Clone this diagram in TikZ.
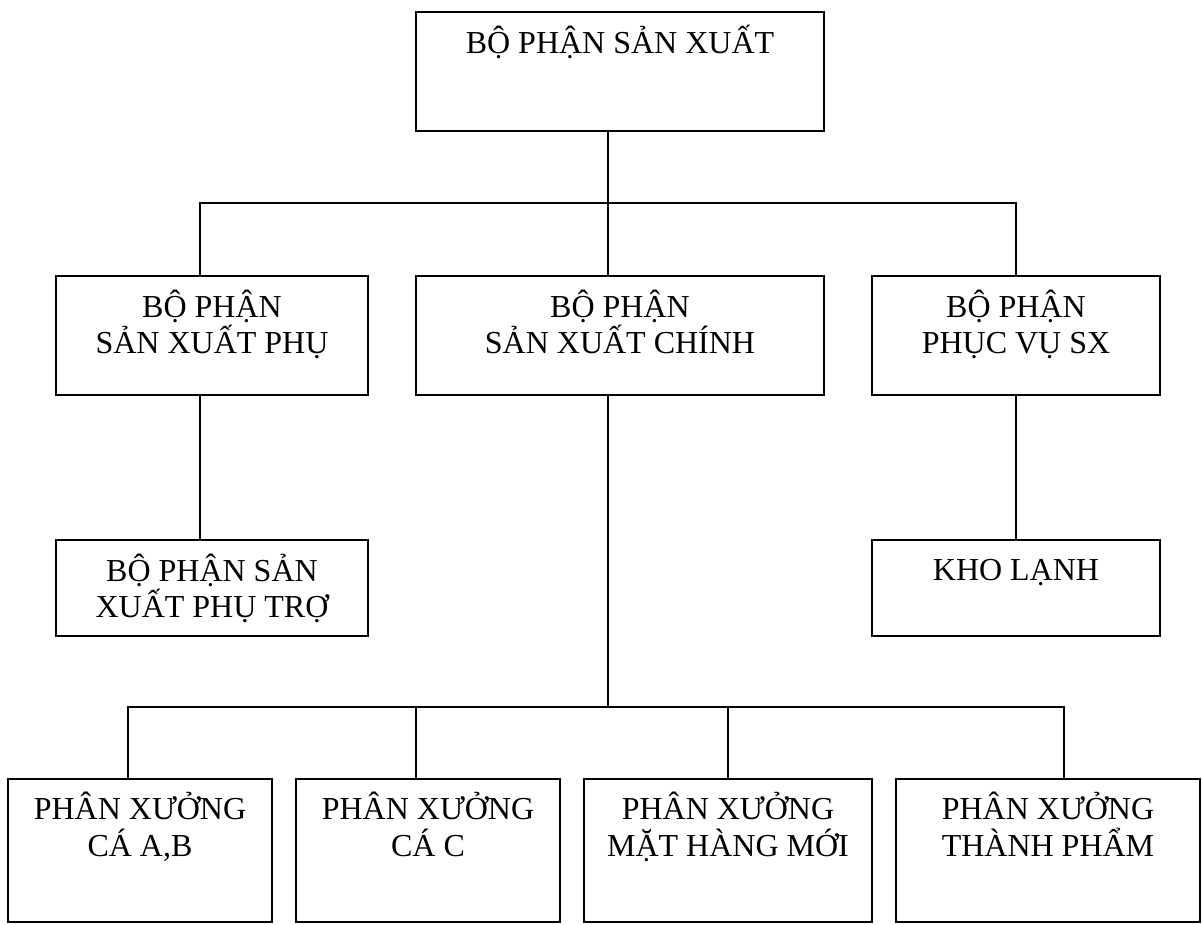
\documentclass[tikz,border=0pt]{standalone}
\usepackage{fontspec}
\setmainfont{Liberation Serif}
\begin{document}
\begin{tikzpicture}[x=1pt,y=-1pt,
  box/.style={draw,line width=2pt,inner sep=0pt,outer sep=0pt},
  lbl/.style={anchor=north,inner sep=0pt,align=center,
    font=\fontsize{32}{36}\selectfont},
  lblb/.style={lbl,font=\fontsize{32}{37.5}\selectfont},
  wire/.style={line width=2pt}]
\useasboundingbox (0,0) rectangle (1202,924);
% strut that fixes the height of the first text line above its baseline
\newcommand{\firstline}{\rule{0pt}{30pt}}

% boxes: centre, width, height
\node[box,minimum width=408pt,minimum height=119pt] (top) at (620,71.5) {};
\node[box,minimum width=312pt,minimum height=119pt] (L)   at (212,335.5) {};
\node[box,minimum width=408pt,minimum height=119pt] (M)   at (620,335.5) {};
\node[box,minimum width=288pt,minimum height=119pt] (R)   at (1016,335.5) {};
\node[box,minimum width=312pt,minimum height=96pt]  (LL)  at (212,588) {};
\node[box,minimum width=288pt,minimum height=96pt]  (RR)  at (1016,588) {};
\node[box,minimum width=264pt,minimum height=143pt] (B1)  at (140,850.5) {};
\node[box,minimum width=264pt,minimum height=143pt] (B2)  at (428,850.5) {};
\node[box,minimum width=288pt,minimum height=143pt] (B3)  at (728,850.5) {};
\node[box,minimum width=304pt,minimum height=143pt] (B4)  at (1048,850.5) {};

% texts, set near the top of each box
\node[lbl]  (topT) at ([yshift=-11pt]top.north) {\firstline BỘ PHẬN SẢN XUẤT};
\node[lbl]  (LT)   at ([yshift=-11pt]L.north)   {\firstline BỘ PHẬN\\SẢN XUẤT PHỤ};
\node[lbl]  (MT)   at ([yshift=-11pt]M.north)   {\firstline BỘ PHẬN\\SẢN XUẤT CHÍNH};
\node[lbl]  (RT)   at ([yshift=-11pt]R.north)   {\firstline BỘ PHẬN\\PHỤC VỤ SX};
\node[lbl]  (LLT)  at ([yshift=-11pt]LL.north)  {\firstline BỘ PHẬN SẢN\\XUẤT PHỤ TRỢ};
\node[lbl]  (RRT)  at ([yshift=-10pt]RR.north)  {\firstline KHO LẠNH};
\node[lblb] (B1T)  at ([yshift=-10pt]B1.north)  {\firstline PHÂN XƯỞNG\\CÁ A,B};
\node[lblb] (B2T)  at ([yshift=-10pt]B2.north)  {\firstline PHÂN XƯỞNG\\CÁ C};
\node[lblb] (B3T)  at ([yshift=-10pt]B3.north)  {\firstline PHÂN XƯỞNG\\MẶT HÀNG MỚI};
\node[lblb] (B4T)  at ([yshift=-10pt]B4.north)  {\firstline PHÂN XƯỞNG\\THÀNH PHẨM};

% bus junctions
\coordinate (h1l) at (200,203);
\coordinate (h1m) at (608,203);
\coordinate (h1r) at (1016,203);
\coordinate (h2m) at (608,707);
\coordinate (h2a) at (128,707);
\coordinate (h2b) at (416,707);
\coordinate (h2c) at (728,707);
\coordinate (h2d) at (1064,707);

% connectors
\draw[wire] (top.south -| h1m) -- (h1m);
\draw[wire] (L.north -| h1l) -- (h1l) -- (h1r) -- (R.north -| h1r);
\draw[wire] (h1m) -- (M.north -| h1m);
\draw[wire] (L.south -| h1l) -- (LL.north -| h1l);
\draw[wire] (R.south -| h1r) -- (RR.north -| h1r);
\draw[wire] (M.south -| h2m) -- (h2m);
\draw[wire] (B1.north -| h2a) -- (h2a) -- (h2d) -- (B4.north -| h2d);
\draw[wire] (B2.north -| h2b) -- (h2b);
\draw[wire] (B3.north -| h2c) -- (h2c);
\end{tikzpicture}
\end{document}
